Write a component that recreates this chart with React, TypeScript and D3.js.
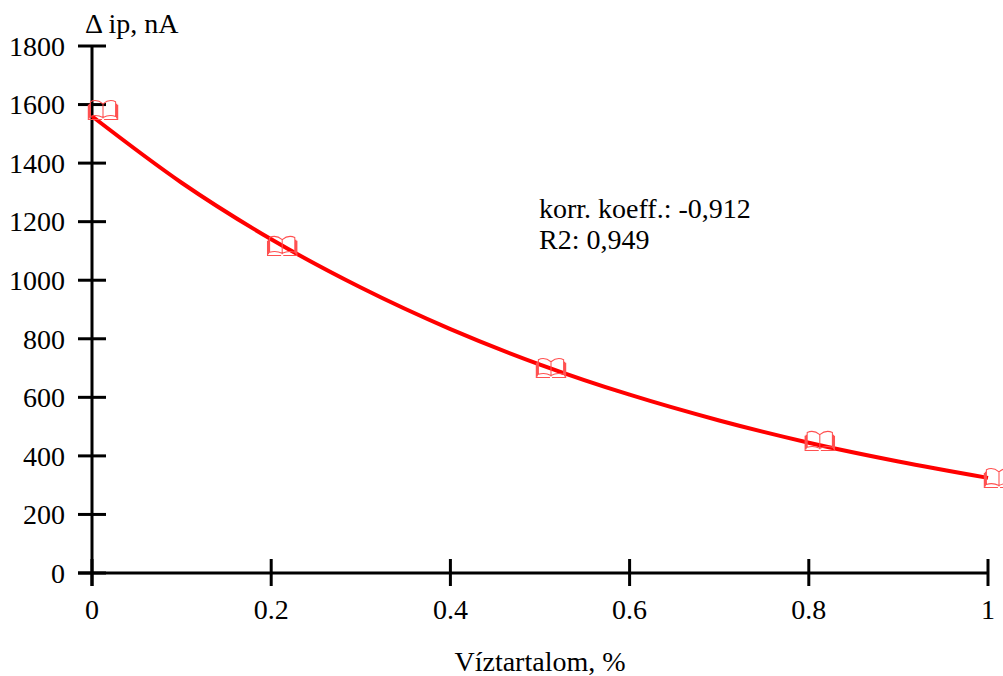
import React from "react";
import * as d3 from "d3";

const xData = [0, 0.2, 0.5, 0.8, 1];
const yData = [1581, 1117, 700, 451, 324];
const fitX = [0, 0.1, 0.2, 0.3, 0.4, 0.5, 0.6, 0.7, 0.8, 0.9, 1];
const fitY = [1560, 1333, 1140, 975, 833, 712, 609, 521, 445, 381, 325];
const xTicks = [0, 0.2, 0.4, 0.6, 0.8, 1];
const xTickLabels = ["0", "0.2", "0.4", "0.6", "0.8", "1"];
const yTicks = [0, 200, 400, 600, 800, 1000, 1200, 1400, 1600, 1800];
const annotation = ["korr. koeff.: -0,912", "R2: 0,949"];

export default function App() {
  const W = 1003, H = 676;
  const x = d3.scaleLinear().domain([0, 1]).range([92, 988]);
  const y = d3.scaleLinear().domain([0, 1800]).range([573, 46]);
  const line = d3
    .line<number>()
    .x((_, i) => x(fitX[i]))
    .y((d) => y(d))
    .curve(d3.curveMonotoneX);
  const book =
    "M0,-6 Q-6,-11 -12,-8 L-12,6 Q-6,4 0,7 M0,-6 Q6,-11 12,-8 L12,6 Q6,4 0,7 M0,-6 L0,8 " +
    "M-14,-5 L-14,9 L-1,9 M1,9 L14,9 L14,-5 M-13,-6 L-13,8 M13,-6 L13,8";
  const ts = { fontFamily: "Liberation Serif", fontSize: 28 };
  return (
    <svg
      width={W}
      height={H}
      style={{ position: "absolute", left: 0, top: 0, background: "#fff" }}
    >
      <line x1={x(0)} x2={x(0)} y1={y(1800)} y2={y(0) + 13} stroke="#000" strokeWidth={3} />
      <line x1={x(0) - 14} x2={x(1)} y1={y(0)} y2={y(0)} stroke="#000" strokeWidth={3} />
      {yTicks.map((t) => (
        <g key={"y" + t}>
          <line x1={x(0) - 14} x2={x(0) + 14} y1={y(t)} y2={y(t)} stroke="#000" strokeWidth={3} />
          <text x={65} y={y(t)} dy="0.35em" textAnchor="end" style={ts}>
            {t}
          </text>
        </g>
      ))}
      {xTicks.map((t, i) => (
        <g key={"x" + t}>
          <line x1={x(t)} x2={x(t)} y1={y(0) - 14} y2={y(0) + 13} stroke="#000" strokeWidth={3} />
          <text x={x(t)} y={619} textAnchor="middle" style={ts}>
            {xTickLabels[i]}
          </text>
        </g>
      ))}
      <text x={85} y={33} style={ts}>
        Δ ip, nA
      </text>
      <text x={540} y={671} textAnchor="middle" style={ts}>
        Víztartalom, %
      </text>
      {annotation.map((s, i) => (
        <text key={s} x={539} y={218 + i * 31} style={ts}>
          {s}
        </text>
      ))}
      <path d={line(fitY) || ""} fill="none" stroke="#ff0000" strokeWidth={4} />
      {xData.map((v, i) => (
        <path
          key={"m" + i}
          d={book}
          transform={`translate(${x(v) + 11},${y(yData[i])}) scale(1.05)`}
          fill="none"
          stroke="#ff5050"
          strokeWidth={1}
        />
      ))}
    </svg>
  );
}
